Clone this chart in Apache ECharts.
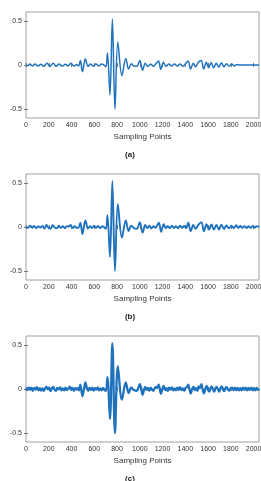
<!DOCTYPE html>
<html>
<head>
<meta charset="utf-8">
<script src="https://cdn.jsdelivr.net/npm/echarts@6/dist/echarts.min.js"></script>
<style>
  html, body { margin: 0; padding: 0; background: #fff; }
  #chart { width: 261px; height: 481px; }
</style>
</head>
<body>
<div id="chart"></div>
<script>
// x tick labels and y tick labels
var xTicks = [0, 200, 400, 600, 800, 1000, 1200, 1400, 1600, 1800, 2000];
var yTicks = [-0.5, 0, 0.5];
var panelLabels = ['(a)', '(b)', '(c)'];

// main burst, shared by the three signals  [sample, amplitude]
var burst = [[703,-0.02],[716,0.135],[738,-0.34],[759,0.52],[782,-0.5],[807,0.26],[843,-0.12],
  [877,0.075],[902,-0.045],[925,0.015],[948,-0.012]];

// (a) clean signal
var leftA = [[0,0.005],[15,-0.008],[35,0.01],[55,-0.01],[80,0.012],[105,-0.01],[130,0.008],[155,-0.015],
  [185,0.02],[210,-0.018],[240,0.02],[265,-0.015],[290,0.01],[320,-0.012],[345,0.008],[370,-0.01],
  [395,0.02],[420,-0.012],[445,0.005],[462,-0.012],[478,0.05],[496,-0.075],[522,0.07],[545,-0.015],
  [565,0.01],[590,-0.012],[615,0.012],[640,-0.01],[665,0.01],[690,-0.005]];
var rightA = [[975,-0.015],[1000,0.05],[1025,-0.06],[1048,0.02],[1070,-0.015],[1095,0.012],[1120,-0.015],
  [1145,0.02],[1165,0.045],[1185,-0.05],[1208,0.03],[1230,-0.015],[1255,0.012],[1280,-0.012],[1305,0.01],
  [1330,-0.012],[1355,0.012],[1380,-0.015],[1405,0.02],[1425,0.045],[1447,-0.045],[1470,0.02],[1490,-0.02],
  [1515,0.03],[1540,0.05],[1562,-0.045],[1585,0.03],[1605,-0.03],[1628,0.025],[1650,-0.03],[1672,0.02],
  [1695,-0.025],[1718,0.025],[1740,-0.02],[1762,0.015],[1785,-0.015],[1808,0.012],[1830,-0.01],[1850,0.003],
  [1880,0],[2048,0]];

// (b) lightly noisy signal
var leftB = [[0,0.008],[18,-0.01],[36,0.014],[54,-0.008],[72,0.012],[90,-0.014],[108,0.01],[126,-0.006],
  [144,0.012],[162,-0.018],[180,0.022],[198,-0.008],[216,-0.02],[234,0.02],[252,-0.006],[270,-0.016],
  [288,0.014],[306,-0.01],[324,0.008],[342,-0.014],[360,0.01],[378,0.006],[392,0.022],[410,-0.012],
  [428,0.008],[446,-0.01],[462,-0.008],[478,0.05],[496,-0.08],[522,0.075],[545,-0.018],[562,0.01],
  [580,-0.012],[598,0.014],[616,-0.01],[634,0.012],[652,-0.014],[670,0.01],[690,-0.008]];
var rightB = [[975,-0.02],[1000,0.055],[1025,-0.065],[1048,0.022],[1066,-0.012],[1084,0.014],[1102,-0.016],
  [1120,0.01],[1138,-0.01],[1154,0.02],[1168,0.05],[1188,-0.055],[1210,0.032],[1228,-0.014],[1246,0.012],
  [1264,-0.014],[1282,0.016],[1300,-0.012],[1318,0.01],[1336,-0.014],[1354,0.014],[1372,-0.01],[1390,0.012],
  [1408,-0.012],[1426,0.048],[1448,-0.05],[1470,0.022],[1490,-0.02],[1518,0.03],[1542,0.055],[1564,-0.05],
  [1586,0.032],[1608,-0.03],[1630,0.028],[1652,-0.03],[1674,0.024],[1696,-0.028],[1718,0.026],[1740,-0.022],
  [1762,0.018],[1784,-0.016],[1806,0.014],[1828,-0.012],[1848,0.02],[1866,-0.01],[1884,0.012],[1902,-0.01],
  [1920,0.01],[1938,-0.012],[1956,0.008],[1974,-0.01],[1992,0.01],[2010,-0.008],[2028,0.01],[2048,-0.004]];

// (c) noisier signal
var leftC = [[0,0.01],[12,-0.012],[24,0.018],[36,-0.008],[48,0.014],[60,-0.02],[72,0.012],[84,-0.006],
  [96,0.02],[108,-0.015],[120,0.01],[132,-0.018],[144,0.008],[156,-0.022],[168,0.01],[180,0.025],
  [192,-0.005],[204,0.015],[216,-0.025],[228,0.008],[240,0.024],[252,-0.01],[264,-0.02],[276,0.012],
  [288,-0.004],[300,0.018],[312,-0.016],[324,0.006],[336,-0.014],[348,0.016],[360,-0.012],[372,0.004],
  [384,0.026],[396,-0.006],[408,0.012],[420,-0.02],[432,0.01],[444,-0.008],[456,0.012],[466,-0.015],
  [478,0.05],[496,-0.08],[510,0.0],[522,0.075],[535,0.01],[546,-0.02],[558,0.012],[570,-0.01],
  [582,0.016],[594,-0.018],[606,0.01],[618,-0.006],[630,0.018],[642,-0.014],[654,0.008],[666,-0.016],
  [678,0.012],[690,-0.01]];
var rightC = [[975,-0.02],[988,0.015],[1000,0.055],[1012,0.01],[1025,-0.065],[1037,-0.01],[1048,0.025],
  [1060,-0.01],[1072,0.012],[1084,-0.02],[1096,0.016],[1108,-0.008],[1120,-0.02],[1132,0.01],[1144,0.025],
  [1154,0.01],[1166,0.05],[1176,0.0],[1186,-0.055],[1198,0.0],[1210,0.035],[1222,-0.012],[1234,0.01],
  [1246,-0.02],[1258,0.014],[1270,-0.006],[1282,0.018],[1294,-0.016],[1306,0.008],[1318,-0.014],
  [1330,0.016],[1342,-0.01],[1354,0.02],[1366,-0.012],[1378,0.006],[1390,-0.02],[1402,0.012],[1414,0.02],
  [1426,0.05],[1436,0.0],[1448,-0.05],[1460,0.0],[1472,0.025],[1484,-0.012],[1496,0.01],[1508,-0.02],
  [1518,0.03],[1530,0.01],[1542,0.055],[1552,0.0],[1564,-0.05],[1576,0.0],[1588,0.035],[1600,-0.01],
  [1610,-0.03],[1622,0.01],[1632,0.03],[1644,-0.005],[1654,-0.03],[1666,0.01],[1676,0.025],[1688,-0.005],
  [1698,-0.03],[1710,0.01],[1720,0.03],[1732,-0.004],[1742,-0.025],[1754,0.01],[1764,0.02],[1776,-0.008],
  [1788,-0.018],[1800,0.012],[1812,0.014],[1824,-0.012],[1836,0.016],[1848,-0.014],[1860,0.012],
  [1872,-0.016],[1884,0.01],[1896,-0.014],[1908,0.016],[1920,-0.01],[1932,0.014],[1944,-0.016],
  [1956,0.012],[1968,-0.01],[1980,0.016],[1992,-0.014],[2004,0.01],[2016,-0.016],[2028,0.012],
  [2040,-0.01],[2048,0.006]];

var signals = [
  leftA.concat(burst, rightA),
  leftB.concat(burst, rightB),
  leftC.concat(burst, rightC)
];

var FONT = 'Liberation Sans';
var tops = [12, 174, 336];
var lineWidths = [1.5, 1.9, 2.3];

var option = { animation: false, grid: [], xAxis: [], yAxis: [], series: [], graphic: [] };

for (var i = 0; i < 3; i++) {
  option.grid.push({
    left: 26, top: tops[i], width: 233, height: 106,
    containLabel: false, outerBoundsMode: 'none',
    show: true, borderColor: '#a0a0a0', borderWidth: 1
  });
  // bottom x axis
  option.xAxis.push({
    type: 'value', gridIndex: i, min: 0, max: 2048, position: 'bottom',
    name: 'Sampling Points', nameLocation: 'middle', nameGap: 15,
    nameTextStyle: { fontFamily: FONT, fontSize: 8, color: '#333' },
    axisLine: { show: false },
    axisTick: { show: true, inside: true, length: 2, customValues: xTicks, lineStyle: { color: '#777' } },
    axisLabel: { customValues: xTicks, fontFamily: FONT, fontSize: 7, color: '#333', margin: 4,
      formatter: function (v) { return String(v); } },
    splitLine: { show: false }
  });
  // top x axis (ticks only)
  option.xAxis.push({
    type: 'value', gridIndex: i, min: 0, max: 2048, position: 'top',
    axisLine: { show: false },
    axisTick: { show: true, inside: true, length: 2, customValues: xTicks, lineStyle: { color: '#777' } },
    axisLabel: { show: false },
    splitLine: { show: false }
  });
  // left y axis
  option.yAxis.push({
    type: 'value', gridIndex: i, min: -0.6, max: 0.6, position: 'left',
    name: 'Amplitude', nameLocation: 'middle', nameGap: 15, nameRotate: 90,
    nameTextStyle: { fontFamily: FONT, fontSize: 8, color: '#333' },
    axisLine: { show: false },
    axisTick: { show: true, inside: true, length: 2, customValues: yTicks, lineStyle: { color: '#777' } },
    axisLabel: { customValues: yTicks, fontFamily: FONT, fontSize: 7, color: '#333', margin: 4 },
    splitLine: { show: false }
  });
  // right y axis (ticks only)
  option.yAxis.push({
    type: 'value', gridIndex: i, min: -0.6, max: 0.6, position: 'right',
    axisLine: { show: false },
    axisTick: { show: true, inside: true, length: 2, customValues: yTicks, lineStyle: { color: '#777' } },
    axisLabel: { show: false },
    splitLine: { show: false }
  });
  option.series.push({
    type: 'line', xAxisIndex: i * 2, yAxisIndex: i * 2,
    data: signals[i], showSymbol: false, smooth: 0.35,
    lineStyle: { color: '#1f72bd', width: lineWidths[i] }
  });
  option.graphic.push({
    type: 'text', x: 130, y: tops[i] + 143,
    style: { text: panelLabels[i], font: 'bold 8px "Liberation Sans"', fill: '#222',
      align: 'center', verticalAlign: 'middle' }
  });
}

var myChart = echarts.init(document.getElementById('chart'));
myChart.setOption(option);
</script>
</body>
</html>
